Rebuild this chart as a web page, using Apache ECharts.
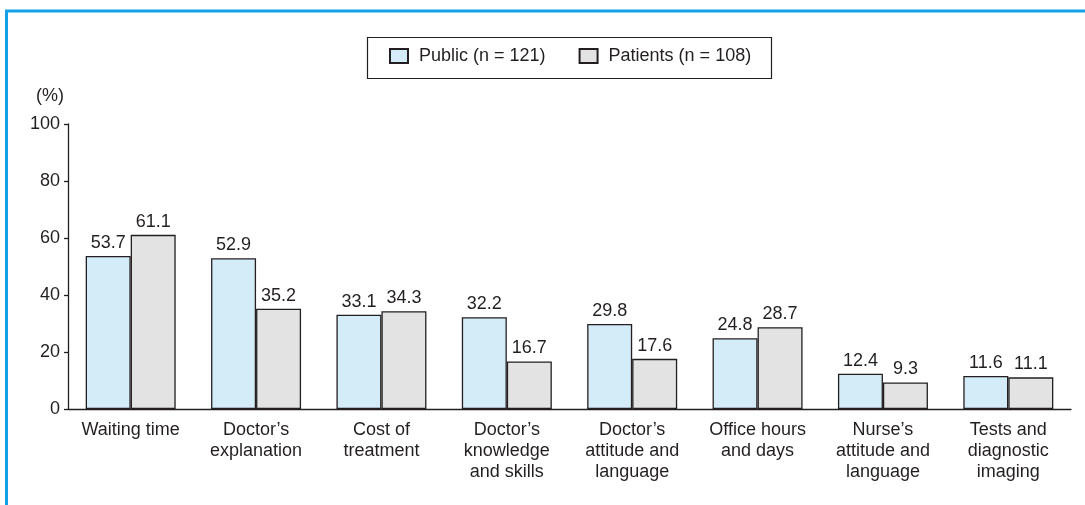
<!DOCTYPE html>
<html>
<head>
<meta charset="utf-8">
<script src="https://cdn.jsdelivr.net/npm/echarts@6/dist/echarts.min.js"></script>
<style>
  html, body { margin: 0; padding: 0; background: #fff; }
  #chart { width: 1085px; height: 505px; }
</style>
</head>
<body>
<div id="chart"></div>
<script>
// 数据
var categories = [
  'Waiting time',
  "Doctor\u2019s\nexplanation",
  'Cost of\ntreatment',
  "Doctor\u2019s\nknowledge\nand skills",
  "Doctor\u2019s\nattitude and\nlanguage",
  'Office hours\nand days',
  "Nurse\u2019s\nattitude and\nlanguage",
  'Tests and\ndiagnostic\nimaging'
];
var publicValues = [53.7, 52.9, 33.1, 32.2, 29.8, 24.8, 12.4, 11.6];
var patientValues = [61.1, 35.2, 34.3, 16.7, 17.6, 28.7, 9.3, 11.1];
var seriesNames = ['Public (n = 121)', 'Patients (n = 108)'];
var yTicks = [0, 20, 40, 60, 80, 100];

var ink = '#231f20';
var font = '"Liberation Sans", Arial, Helvetica, sans-serif';

var chart = echarts.init(document.getElementById('chart'));

function barSeries(name, data, color) {
  return {
    name: name,
    type: 'bar',
    data: data,
    barWidth: 45,
    barGap: '0%',
    itemStyle: { color: color, borderColor: ink, borderWidth: 1.3 },
    label: {
      show: true,
      position: 'top',
      distance: 4,
      color: ink,
      fontSize: 18,
      fontFamily: font,
      formatter: function (p) { return p.value.toFixed(1); }
    }
  };
}

chart.setOption({
  animation: false,
  textStyle: { fontFamily: font, color: ink },
  graphic: [
    // 外框
    {
      type: 'polyline',
      shape: { points: [[6.5, 505], [6.5, 11], [1085, 11]] },
      style: { stroke: '#12a0e6', lineWidth: 3, fill: null }
    },
    // 图例框
    {
      type: 'rect',
      shape: { x: 367.5, y: 37.5, width: 404, height: 41 },
      style: { stroke: ink, lineWidth: 1.2, fill: null }
    },
    {
      type: 'text',
      left: 36,
      top: 87,
      style: { text: '(%)', fontSize: 18, fontFamily: font, fill: ink }
    }
  ],
  legend: {
    left: 389,
    top: 47,
    padding: 0,
    itemWidth: 18,
    itemHeight: 14,
    itemGap: 33,
    icon: 'rect',
    textStyle: { fontSize: 18, fontFamily: font, color: ink, padding: [0, 0, 0, 6] },
    data: seriesNames
  },
  grid: { left: 68, right: 14, top: 124, bottom: 96 },
  xAxis: {
    type: 'category',
    data: categories,
    axisLine: { lineStyle: { color: ink, width: 1.3 } },
    axisTick: { inside: true, length: 5, lineStyle: { color: ink, width: 1.3 } },
    axisLabel: {
      color: ink,
      fontSize: 18,
      fontFamily: font,
      lineHeight: 21,
      margin: 11,
      interval: 0
    }
  },
  yAxis: {
    type: 'value',
    min: yTicks[0],
    max: yTicks[yTicks.length - 1],
    interval: yTicks[1] - yTicks[0],
    splitLine: { show: false },
    axisLine: { show: true, lineStyle: { color: ink, width: 1.3 } },
    axisTick: { show: true, length: 4, lineStyle: { color: ink, width: 1.3 } },
    axisLabel: { color: ink, fontSize: 18, fontFamily: font, margin: 8 }
  },
  series: [
    barSeries(seriesNames[0], publicValues, '#d4ebf8'),
    barSeries(seriesNames[1], patientValues, '#e3e3e3')
  ]
});
</script>
</body>
</html>
